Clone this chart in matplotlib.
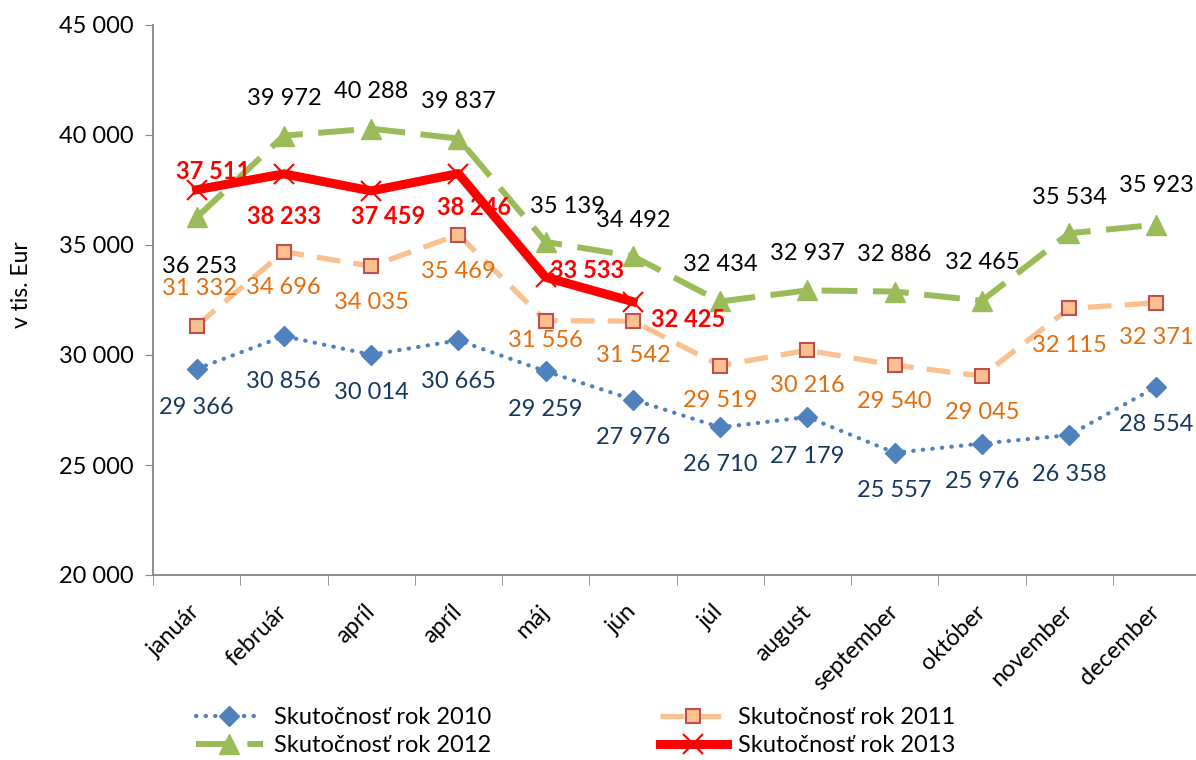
import matplotlib
matplotlib.use("Agg")
from matplotlib import pyplot as plt
from matplotlib.ticker import FuncFormatter, FixedLocator

mesiace = ['január', 'február', 'apríl', 'apríl', 'máj', 'jún', 'júl',
           'august', 'september', 'október', 'november', 'december']

rok_2010 = [29366, 30856, 30014, 30665, 29259, 27976, 26710, 27179, 25557, 25976, 26358, 28554]
rok_2011 = [31332, 34696, 34035, 35469, 31556, 31542, 29519, 30216, 29540, 29045, 32115, 32371]
rok_2012 = [36253, 39972, 40288, 39837, 35139, 34492, 32434, 32937, 32886, 32465, 35534, 35923]
rok_2013 = [37511, 38233, 37459, 38246, 33533, 32425]

# posuny popiskov v pixeloch (dx, dy), dy kladne = hore
pos_2010 = [(0, -39), (0, -45), (0, -38), (0, -41), (0, -38), (0, -38),
            (0, -37), (0, -39), (0, -38), (0, -38), (0, -39), (0, -38)]
pos_2011 = [(3, 37), (0, -36), (0, -36), (0, -37), (0, -20), (0, -34),
            (0, -35), (0, -35), (0, -36), (0, -36), (0, -37), (0, -35)]
pos_2012 = [(3, -49), (0, 37), (0, 37), (0, 37), (22, 35), (0, 36),
            (0, 37), (0, 37), (0, 37), (0, 38), (0, 36), (0, 39)]
pos_2013 = [(17, 18), (0, -43), (17, -26), (16, -34), (41, 7), (55, -18)]

plt.rcParams['font.family'] = ['Lato', 'DejaVu Sans']
FS = 17

fig = plt.figure(figsize=(11.96, 7.6), dpi=100)
ax = fig.add_axes([153 / 1196, 1 - 575 / 760, 1047 / 1196, 550 / 760])

x = list(range(12))
x13 = list(range(len(rok_2013)))

l10, = ax.plot(x, rok_2010, linestyle=(0, (0.1, 2.2)), dash_capstyle='round', color='#4F81BD',
               lw=3, marker='D', ms=10, mfc='#4F81BD', mec='#4F81BD', label='Skutočnosť rok 2010', zorder=3)
l11, = ax.plot(x, rok_2011, linestyle=(0, (4.5, 2.5)), color='#FAC090', lw=3.8, marker='s', ms=10,
               mfc='#FAC090', mec='#C0504D', mew=1.5, label='Skutočnosť rok 2011', zorder=3)
l12, = ax.plot(x, rok_2012, linestyle=(0, (6, 2.6)), color='#9BBB59', lw=4.3, marker='^', ms=14,
               mfc='#9BBB59', mec='#9BBB59', label='Skutočnosť rok 2012', zorder=3)
l13, = ax.plot(x13, rok_2013, linestyle='-', color='#FF0000', lw=6.5, marker='x', ms=15,
               mew=1.5, mec='#FF0000', label='Skutočnosť rok 2013', zorder=4)


def fmt(v):
    return f'{v:,}'.replace(',', ' ')


def popisky(xs, vals, posuny, farba, hrube=False):
    for xi, v, (dx, dy) in zip(xs, vals, posuny):
        ax.annotate(fmt(v), (xi, v), xytext=(dx * 0.72, dy * 0.72), textcoords='offset points',
                    ha='center', va='center', fontsize=FS, color=farba,
                    fontweight='bold' if hrube else 'normal', zorder=5)


popisky(x, rok_2010, pos_2010, '#17375E')
popisky(x, rok_2011, pos_2011, '#E46C0A')
popisky(x, rok_2012, pos_2012, '#000000')
popisky(x13, rok_2013, pos_2013, '#FF0000', hrube=True)

ax.set_xlim(-0.5, 11.5)
ax.set_ylim(20000, 45000)
ax.set_yticks(range(20000, 45001, 5000))
ax.yaxis.set_major_formatter(FuncFormatter(lambda v, p: fmt(int(v))))
ax.tick_params(axis='y', labelsize=FS, length=6, color='#868686', pad=8)

ax.set_xticks(x)
ax.set_xticklabels(mesiace, rotation=45, ha='right', va='center', rotation_mode='anchor')
ax.tick_params(axis='x', which='major', length=0, labelsize=FS, pad=24)
ax.xaxis.set_minor_locator(FixedLocator([i + 0.5 for i in range(-1, 12)]))
ax.tick_params(axis='x', which='minor', length=7, color='#868686')

for s in ['top', 'right']:
    ax.spines[s].set_visible(False)
for s in ['left', 'bottom']:
    ax.spines[s].set_color('#868686')
    ax.spines[s].set_linewidth(1.3)

fig.text(22 / 1196, 1 - 285 / 760, 'v tis. Eur', rotation=90, ha='center', va='center', fontsize=16.5)

# poradie v legende po riadkoch: 2010, 2011 / 2012, 2013
poradie = [l10, l12, l11, l13]
fig.legend(poradie, [l.get_label() for l in poradie],
           loc='upper left', bbox_to_anchor=(184 / 1196, 1 - 695 / 760), ncol=2, frameon=False,
           fontsize=FS, handlelength=2.85, handletextpad=0.45, columnspacing=7.15,
           labelspacing=0.3, borderpad=0, numpoints=1)

fig.savefig('out.png', dpi=100)
